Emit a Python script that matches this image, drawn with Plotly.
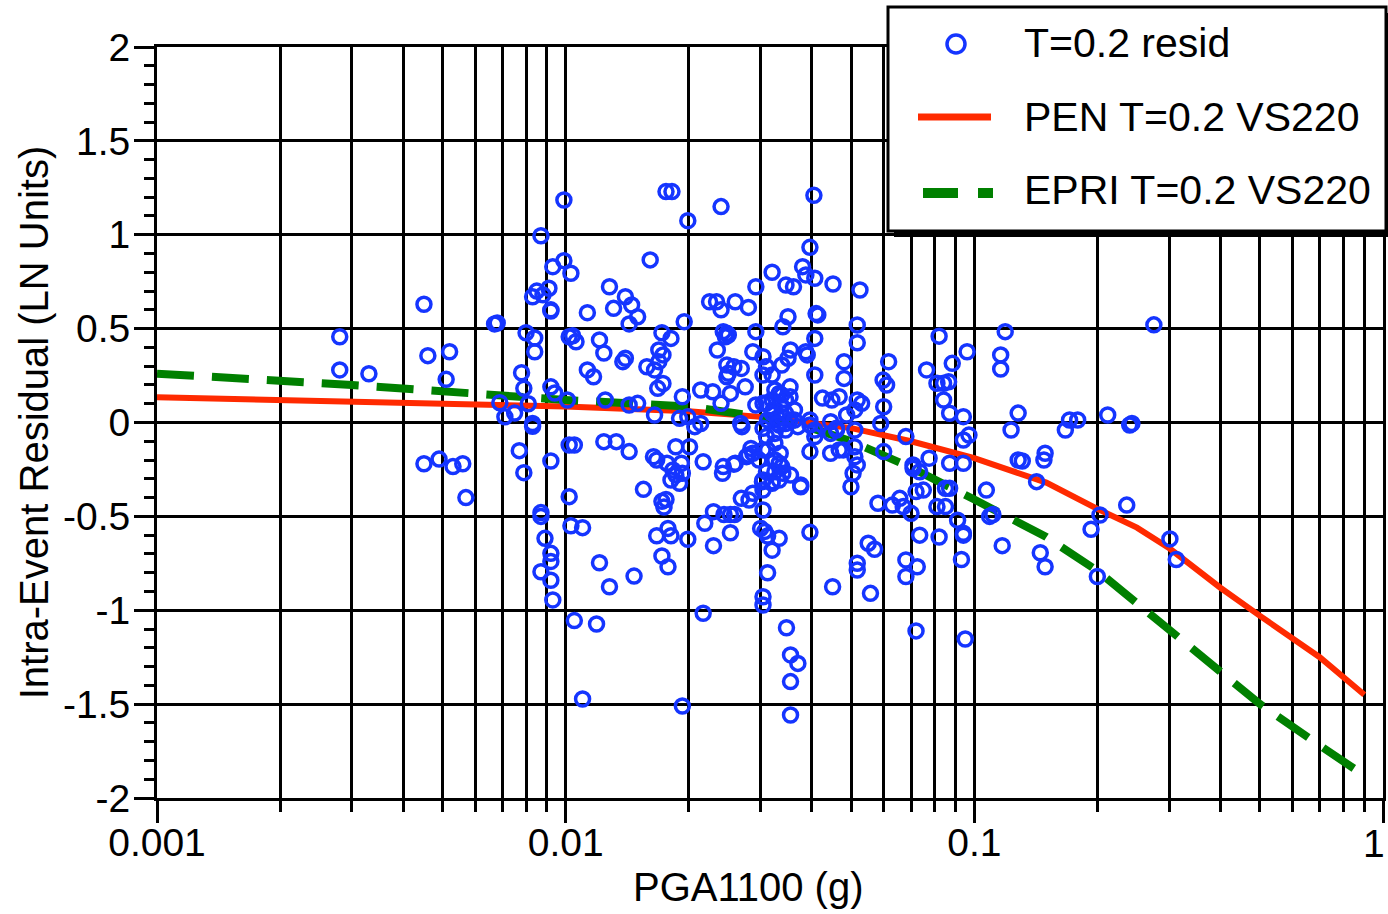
import plotly.graph_objects as go

# ---------------- data ----------------
pga_g = [
    0.0028, 0.0028, 0.0033, 0.0045, 0.0046, 0.0052, 0.0051,
    0.0045, 0.0049, 0.0053, 0.0056, 0.0057,
    0.0068, 0.0067, 0.0069, 0.0071, 0.0075,
    0.0078, 0.0079, 0.0080, 0.0084, 0.0084, 0.0081, 0.0083, 0.0083,
    0.0077, 0.0079, 0.0092, 0.0087, 0.0087,
    0.0091, 0.0085, 0.0083, 0.0088, 0.0092, 0.0087,
    0.0092, 0.0094, 0.0101, 0.0102, 0.0102, 0.0102,
    0.0099, 0.0099, 0.0093, 0.0103, 0.0092,
    0.0089, 0.0092, 0.0092, 0.0087, 0.0092, 0.0093,
    0.0103, 0.0110, 0.0105, 0.0119, 0.0110,
    0.0176, 0.0182, 0.0240, 0.0199, 0.0161,
    0.0128, 0.0140, 0.0145, 0.0131, 0.0150, 0.0143, 0.0113,
    0.0104, 0.0106, 0.0121, 0.0124, 0.0138, 0.0140, 0.0113, 0.0117,
    0.0172, 0.0181, 0.0169, 0.0173, 0.0169, 0.0165, 0.0158, 0.0168, 0.0173, 0.0193, 0.0195,
    0.0125, 0.0143, 0.0150, 0.0165, 0.0190, 0.0199, 0.0207, 0.0214,
    0.0105, 0.0124, 0.0133, 0.0143, 0.0164, 0.0167,
    0.0177, 0.0186, 0.0192, 0.0201, 0.0217,
    0.0181, 0.0186, 0.0190, 0.0193, 0.0183, 0.0155,
    0.0172, 0.0174, 0.0176,
    0.0121, 0.0128, 0.0147, 0.0193,
    0.0167, 0.0178, 0.0181, 0.0172, 0.0178, 0.0199, 0.0217,
    0.0225, 0.0234, 0.0240, 0.0260, 0.0280,
    0.0235, 0.0248, 0.0246, 0.0250,
    0.0248, 0.0250, 0.0248, 0.0258, 0.0269, 0.0287, 0.0304, 0.0310, 0.0304, 0.0320,
    0.0214, 0.0229, 0.0240, 0.0253, 0.0275,
    0.0292, 0.0304, 0.0320, 0.0268, 0.0270,
    0.0243, 0.0260, 0.0277, 0.0287, 0.0304,
    0.0242, 0.0258,
    0.0219, 0.0230, 0.0244, 0.0253, 0.0259, 0.0253, 0.0230,
    0.0269, 0.0281,
    0.0304, 0.0300, 0.0307, 0.0312, 0.0320, 0.0312, 0.0304, 0.0304,
    0.0303, 0.0304, 0.0310, 0.0320,
    0.0405, 0.0396, 0.0320, 0.0380, 0.0387, 0.0407, 0.0346, 0.0361, 0.0292,
    0.0451, 0.0525, 0.0350, 0.0340, 0.0410, 0.0414, 0.0517, 0.0517,
    0.0243, 0.0292,
    0.0355, 0.0387, 0.0407, 0.0390,
    0.0338, 0.0350, 0.0407,
    0.0480, 0.0480, 0.0598, 0.0610, 0.0617,
    0.0820, 0.0764, 0.0810, 0.0841, 0.0865, 0.0883, 0.0960,
    0.0841, 0.0870, 0.0940, 0.0970, 0.0940, 0.0680,
    0.0600, 0.0590, 0.0487, 0.0517, 0.0530, 0.0510,
    0.0425, 0.0448, 0.0467,
    0.0333, 0.0345, 0.0354, 0.0363,
    0.0325, 0.0345, 0.0370, 0.0396,
    0.0407, 0.0445, 0.0460, 0.0510,
    0.0396, 0.0445, 0.0478, 0.0509, 0.0510, 0.0517, 0.0600,
    0.0708, 0.0775, 0.0870, 0.0940,
    0.0310, 0.0325, 0.0335, 0.0325, 0.0338,
    0.0310, 0.0322, 0.0330, 0.0336, 0.0345, 0.0354, 0.0333, 0.0312,
    0.0325, 0.0338, 0.0354, 0.0320, 0.0338, 0.0363, 0.0330, 0.0345, 0.0304,
    0.0312, 0.0284, 0.0280, 0.0297,
    0.0396, 0.0407, 0.0445, 0.0460, 0.0467,
    0.0505, 0.0499,
    0.0333, 0.0340, 0.0304, 0.0320, 0.0376, 0.0287,
    0.0347, 0.0355, 0.0370, 0.0355, 0.0355,
    0.0396, 0.0450, 0.0557, 0.0517, 0.0517, 0.0550, 0.0570,
    0.0581, 0.0630, 0.0657, 0.0670, 0.0700,
    0.0708, 0.0735, 0.0720, 0.0750,
    0.0850, 0.0870, 0.0810, 0.0850,
    0.0910, 0.0940, 0.1070, 0.1090, 0.1110, 0.1170, 0.0930,
    0.0735, 0.0820, 0.0940, 0.0680, 0.0725, 0.0680,
    0.0720, 0.0950,
    0.1280, 0.1230, 0.1280,
    0.0333, 0.0376,
    0.0333, 0.0355, 0.0325,
    0.2750, 0.1190, 0.1160, 0.1160,
    0.1670, 0.1710, 0.1790, 0.2120, 0.2400, 0.2430,
    0.1310, 0.1480, 0.1490, 0.1420,
    0.1450, 0.1490, 0.2030, 0.1930, 0.2360, 0.2000, 0.3010, 0.3120,
]
resid_ln = [
    0.457, 0.28, 0.26, 0.63, 0.356, 0.377, 0.23,
    -0.22, -0.195, -0.235, -0.22, -0.40,
    0.53, 0.525, 0.105, 0.03, 0.05,
    0.265, 0.182, 0.478, 0.45, 0.377, 0.10, -0.005, -0.02,
    -0.15, -0.267, -0.205, -0.48, -0.50,
    0.715, 0.70, 0.67, 0.68, 0.594, 0.995,
    0.19, 0.157, 0.12, 0.457, -0.12, -0.395,
    1.185, 0.862, 0.83, 0.795, 0.60,
    -0.617, -0.697, -0.74, -0.795, -0.84, -0.945,
    -0.55, -0.56, -1.055, -1.073, -1.473,
    1.23, 1.23, 1.15, 1.075, 0.866,
    0.723, 0.67, 0.626, 0.608, 0.563, 0.525, 0.585,
    0.462, 0.43, 0.44, 0.37, 0.324, 0.342, 0.28, 0.244,
    0.478, 0.448, 0.386, 0.36, 0.324, 0.28, 0.297, 0.182, 0.208, 0.137, 0.537,
    0.12, 0.093, 0.102, 0.04, 0.022, 0.03, -0.022, -0.005,
    -0.12, -0.102, -0.102, -0.155, -0.182, -0.20,
    -0.217, -0.129, -0.217, -0.129, -0.209,
    -0.306, -0.28, -0.324, -0.27, -0.253, -0.356,
    -0.42, -0.45, -0.41,
    -0.747, -0.875, -0.818, -1.51,
    -0.603, -0.564, -0.603, -0.711, -0.768, -0.622, -1.016,
    0.643, 0.643, 0.60, 0.643, 0.613,
    0.386, 0.475, 0.457, 0.466,
    0.306, 0.262, 0.244, 0.297, 0.288, 0.377, 0.35, 0.297, 0.253, 0.253,
    0.173, 0.164, 0.102, 0.155, 0.19,
    0.093, 0.102, 0.12, -0.005, -0.022,
    -0.235, -0.217, -0.182, -0.164, -0.146,
    -0.27, -0.222,
    -0.537, -0.475, -0.49, -0.49, -0.49, -0.587, -0.656,
    -0.404, -0.413,
    -0.466, -0.564, -0.58, -0.605, -0.68, -0.80, -0.928, -0.972,
    -0.315, -0.36, -0.262, -0.315,
    1.21, 0.933, 0.80, 0.83, 0.786, 0.768, 0.732, 0.723, 0.723,
    0.738, 0.706, 0.563, 0.51, 0.58, 0.573, 0.519, 0.425,
    0.484, 0.484,
    0.386, 0.377, 0.448, 0.36,
    0.306, 0.342, 0.253,
    0.324, 0.235, 0.226, 0.20, 0.324,
    0.46, 0.28, 0.209, 0.209, 0.217, 0.315, 0.377,
    0.12, 0.049, 0.031, -0.067, -0.093, -0.075,
    0.084, -0.005, 0.04, 0.12, 0.102, 0.067,
    0.13, 0.12, 0.137,
    0.155, 0.12, 0.137, 0.067,
    -0.058, -0.005, -0.022, -0.013,
    -0.075, -0.058, -0.04, -0.04,
    -0.155, -0.164, -0.146, -0.129, -0.182, -0.226, -0.155,
    -0.226, -0.19, -0.217, -0.217,
    -0.075, -0.11, -0.164, -0.20, -0.235,
    0.104, 0.067, 0.024, 0.093, 0.05, 0.013, -0.013, 0.013,
    0.173, 0.146, 0.19, 0.049, 0.031, 0.013, -0.005, -0.04, -0.031,
    -0.146, -0.138, -0.173, -0.20,
    0.013, -0.04, 0.004, -0.031, -0.146,
    -0.27, -0.342,
    -0.217, -0.27, -0.306, -0.324, -0.333, -0.377,
    -1.093, -1.238, -1.283, -1.38, -1.558,
    -0.585, -0.875, -0.91, -0.75, -0.786, -0.643, -0.675,
    -0.43, -0.44, -0.404, -0.448, -0.484,
    -0.244, -0.262, -0.368, -0.36,
    -0.35, -0.35, -0.448, -0.448,
    -0.52, -0.59, -0.36, -0.50, -0.49, -0.656, -0.73,
    -0.60, -0.61, -0.60, -0.732, -0.768, -0.82,
    -1.11, -1.153,
    0.05, -0.04, -0.20,
    -0.617, -0.342,
    -0.306, -0.28, -0.262,
    0.52, 0.484, 0.36, 0.285,
    -0.04, 0.013, 0.013, 0.04, -0.013, -0.005,
    -0.205, -0.20, -0.164, -0.315,
    -0.694, -0.768, -0.493, -0.569, -0.44, -0.82, -0.62, -0.73,
]

pen_pga = [0.001, 0.002, 0.005, 0.01, 0.02, 0.03, 0.05, 0.07, 0.1, 0.15,
           0.2, 0.25, 0.3, 0.4, 0.5, 0.7, 0.9]
pen_resid = [0.135, 0.12, 0.10, 0.085, 0.06, 0.03, -0.03, -0.10, -0.19, -0.32,
             -0.46, -0.56, -0.67, -0.88, -1.03, -1.25, -1.45]

epri_pga = [0.001, 0.003, 0.01, 0.02, 0.03, 0.04, 0.05, 0.07, 0.1, 0.15,
            0.2, 0.3, 0.5, 0.7, 0.9]
epri_resid = [0.26, 0.20, 0.12, 0.085, 0.03, -0.03, -0.10, -0.24, -0.41, -0.61,
              -0.79, -1.10, -1.50, -1.72, -1.88]

x_major = [0.001, 0.01, 0.1, 1]
# the last label ("1") sits on the right edge; it is drawn as an annotation so it stays visible
x_major_text = ["0.001", "0.01", "0.1", ""]
x_last_label = "1"
x_minor = [m * d for d in (0.001, 0.01, 0.1) for m in range(2, 10)]
y_ticks = [2, 1.5, 1, 0.5, 0, -0.5, -1, -1.5, -2]
y_tick_text = ["2", "1.5", "1", "0.5", "0", "-0.5", "-1", "-1.5", "-2"]

legend_labels = ["T=0.2 resid", "PEN T=0.2 VS220", "EPRI T=0.2 VS220"]
x_title = "PGA1100 (g)"
y_title = "Intra-Event Residual (LN Units)"

# ---------------- styling ----------------
FONT = "Liberation Sans, Arial, Helvetica, sans-serif"
BLUE = "#1535FF"
RED = "#FF2A00"
GREEN = "#008000"
W, H = 1388, 914
L, R, T, B = 157, 1383, 47, 798


def px(xp):
    return (xp - L) / (R - L)


def py(yp):
    return (B - yp) / (B - T)


fig = go.Figure()
fig.add_trace(go.Scatter(x=pen_pga, y=pen_resid, mode="lines", name=legend_labels[1],
                         line=dict(color=RED, width=6), showlegend=False))
fig.add_trace(go.Scatter(x=epri_pga, y=epri_resid, mode="lines", name=legend_labels[2],
                         line=dict(color=GREEN, width=8, dash="37px,18px"), showlegend=False))
fig.add_trace(go.Scatter(x=pga_g, y=resid_ln, mode="markers", name=legend_labels[0],
                         marker=dict(symbol="circle-open", size=14, color=BLUE,
                                     line=dict(color=BLUE, width=3.5)),
                         showlegend=False))

axis_font = dict(family=FONT, size=39, color="black")
fig.update_xaxes(
    type="log", range=[-3, 0], tickmode="array", tickvals=x_major, ticktext=x_major_text,
    ticks="outside", ticklen=22, tickwidth=3, tickcolor="black",
    ticklabelstandoff=-14,
    showgrid=True, gridcolor="black", gridwidth=3,
    showline=True, linecolor="black", linewidth=3, mirror=True,
    tickfont=axis_font, zeroline=False,
    minor=dict(tickmode="array", tickvals=x_minor, ticks="outside", ticklen=11,
               tickwidth=3, tickcolor="black", showgrid=True, gridcolor="black", gridwidth=3),
)
fig.update_yaxes(
    range=[-2, 2], tickmode="array", tickvals=y_ticks, ticktext=y_tick_text,
    ticks="outside", ticklen=20, tickwidth=3, tickcolor="black",
    ticklabelstandoff=-4,
    showgrid=True, gridcolor="black", gridwidth=3,
    showline=True, linecolor="black", linewidth=3, mirror=True,
    tickfont=axis_font, zeroline=False,
    minor=dict(dtick=0.1, tick0=0, ticks="outside", ticklen=10, tickwidth=3,
               tickcolor="black", showgrid=False),
    title=dict(text=y_title, font=dict(family=FONT, size=40, color="black"), standoff=2),
)

# hand-drawn legend box (with drop shadow) to match the reference
shapes = [
    dict(type="rect", xref="paper", yref="paper", x0=px(894), x1=px(1394), y0=py(237), y1=py(13),
         fillcolor="black", line=dict(width=0), layer="above"),
    dict(type="rect", xref="paper", yref="paper", x0=px(888), x1=px(1386), y0=py(231), y1=py(7),
         fillcolor="white", line=dict(color="black", width=3), layer="above"),
    dict(type="circle", xref="paper", yref="paper", xsizemode="pixel", ysizemode="pixel",
         xanchor=px(956), yanchor=py(44), x0=-9, x1=9, y0=-9, y1=9,
         line=dict(color=BLUE, width=3.5), fillcolor="rgba(0,0,0,0)", layer="above"),
    dict(type="line", xref="paper", yref="paper", x0=px(918), x1=px(991), y0=py(117), y1=py(117),
         line=dict(color=RED, width=7), layer="above"),
    dict(type="line", xref="paper", yref="paper", x0=px(923), x1=px(993), y0=py(193), y1=py(193),
         line=dict(color=GREEN, width=10, dash="35px,20px"), layer="above"),
]
legend_font = dict(family=FONT, size=41, color="black")
annotations = [
    dict(text=legend_labels[0], xref="paper", yref="paper", x=px(1022), y=py(43),
         xanchor="left", yanchor="middle", showarrow=False, font=legend_font),
    dict(text=legend_labels[1], xref="paper", yref="paper", x=px(1022), y=py(117),
         xanchor="left", yanchor="middle", showarrow=False, font=legend_font),
    dict(text=legend_labels[2], xref="paper", yref="paper", x=px(1022), y=py(190),
         xanchor="left", yanchor="middle", showarrow=False, font=legend_font),
    # x-axis title (placed as in the reference, slightly left of the plot centre)
    dict(text=x_title, xref="paper", yref="paper", x=px(748), y=py(887),
         xanchor="center", yanchor="middle", showarrow=False,
         font=dict(family=FONT, size=40, color="black")),
    # last x tick label, kept inside the page
    dict(text=x_last_label, xref="paper", yref="paper", x=px(1387), y=py(843),
         xanchor="right", yanchor="middle", showarrow=False,
         font=axis_font),
]

fig.update_layout(
    width=W, height=H,
    margin=dict(l=L, r=W - R, t=T, b=H - B, autoexpand=False),
    paper_bgcolor="white", plot_bgcolor="white",
    showlegend=False,
    shapes=shapes, annotations=annotations,
    font=dict(family=FONT, color="black"),
)

fig.write_html("out.html")
